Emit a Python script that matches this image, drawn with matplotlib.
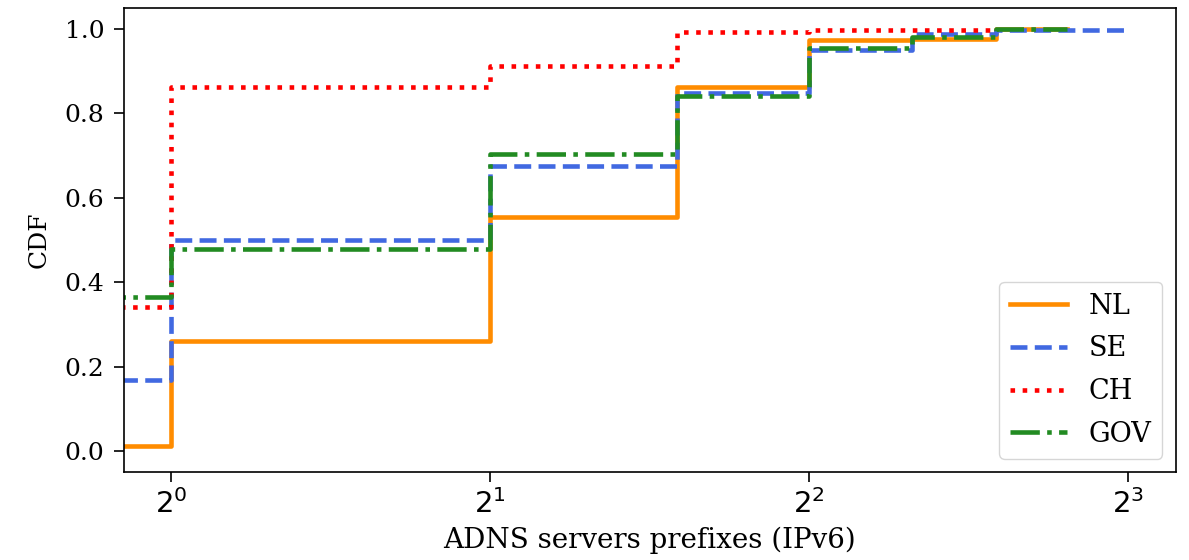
import numpy as np
import matplotlib
matplotlib.use('Agg')
import matplotlib.pyplot as plt

plt.rcParams['font.family'] = 'DejaVu Serif'
plt.rcParams['mathtext.fontset'] = 'dejavusans'

# numero de prefixos (x) e CDF acumulada por grupo
prefixos = [0, 1, 2, 3, 4, 5, 6, 7, 8]
nl = [0.011, 0.26, 0.554, 0.862, 0.974, 0.976, 1.0, 1.0]
se = [0.167, 0.50, 0.676, 0.848, 0.949, 0.989, 0.998, 0.998, 1.0]
ch = [0.34, 0.862, 0.913, 0.992, 0.998, 0.998, 1.0]
gov = [0.366, 0.479, 0.704, 0.842, 0.955, 0.981, 1.0, 1.0]

series = [
    ('NL', nl, 'darkorange', '-'),
    ('SE', se, 'royalblue', '--'),
    ('CH', ch, 'red', ':'),
    ('GOV', gov, 'forestgreen', '-.'),
]

fig, ax = plt.subplots(figsize=(11.89, 5.6), dpi=100)
fig.subplots_adjust(left=0.104, right=0.989, top=0.986, bottom=0.157)

for nome, y, cor, estilo in series:
    ax.step(prefixos[:len(y)], y, where='post', color=cor, linestyle=estilo,
            linewidth=3.3, label=nome)

ax.set_xscale('log', base=2)
lo, hi = np.log2(1), np.log2(8)
m = 0.05 * (hi - lo)
ax.set_xlim(2 ** (lo - m), 2 ** (hi + m))
ax.set_ylim(-0.05, 1.05)
ax.set_xticks([1, 2, 4, 8])
ax.set_xticklabels(['$2^{0}$', '$2^{1}$', '$2^{2}$', '$2^{3}$'])
ax.minorticks_off()
ax.tick_params(axis='y', labelsize=18, length=7, width=1.2, pad=7)
ax.tick_params(axis='x', labelsize=21, length=7, width=1.2, pad=5)
for s in ax.spines.values():
    s.set_linewidth(1.2)

ax.set_xlabel('ADNS servers prefixes (IPv6)', fontsize=20, labelpad=6)
ax.set_ylabel('CDF', fontsize=18, labelpad=10)
ax.legend(loc='lower right', fontsize=19.5, handlelength=2.1, labelspacing=0.58)

plt.savefig('out.png')
